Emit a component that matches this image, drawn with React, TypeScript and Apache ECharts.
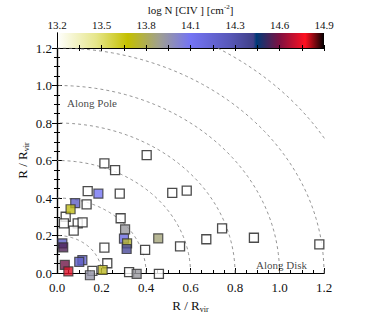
import React, { useEffect, useRef } from "react";
import * as echarts from "echarts";

const FONT = "'Liberation Serif', 'DejaVu Serif', serif";

// Dashed radii circles (R / Rvir)
const radii = [0.2, 0.4, 0.6, 0.8, 1.0, 1.2, 1.4];

// Main axis ticks
const axisTickLabels = ["0.0", "0.2", "0.4", "0.6", "0.8", "1.0", "1.2"];

// Colorbar tick labels (log N)
const cbTickLabels = ["13.2", "13.5", "13.8", "14.1", "14.3", "14.6", "14.9"];
const cbMin = 13.2;
const cbMax = 14.9;

// Colormap stops: [logN, color]
const cmapValues = [13.2, 13.45, 13.65, 13.85, 14.05, 14.3, 14.45, 14.47, 14.62, 14.78, 14.9];
const cmapColors = ["#ffffff", "#e6e68a", "#c4c000", "#a0a090", "#7474f4", "#5858b8", "#404088", "#003a78", "#801040", "#ff1020", "#000000"];

// Non-detections / open squares: [x, y]
const openX = [0.403, 0.213, 0.261, 0.138, 0.282, 0.518, 0.583, 0.133, 0.039, 0.031, 0.093, 0.115, 0.075, 0.286, 0.553, 0.396, 0.213, 0.226, 0.159, 0.324, 0.458, 0.742, 0.671, 0.885, 1.179];
const openY = [0.629, 0.585, 0.549, 0.437, 0.423, 0.427, 0.439, 0.366, 0.300, 0.265, 0.265, 0.270, 0.226, 0.292, 0.142, 0.123, 0.135, 0.052, 0.011, 0.005, -0.005, 0.238, 0.180, 0.188, 0.153];

// Detections coloured by log N(CIV)
const detX = [0.186, 0.082, 0.061, 0.306, 0.301, 0.315, 0.313, 0.455, 0.024, 0.028, 0.114, 0.100, 0.035, 0.051, 0.148, 0.205, 0.358];
const detY = [0.423, 0.373, 0.340, 0.233, 0.183, 0.158, 0.128, 0.185, 0.158, 0.137, 0.069, 0.059, 0.043, 0.009, -0.012, 0.016, -0.005];
const detLogN = [14.05, 14.25, 13.68, 13.88, 14.12, 13.72, 14.4, 13.82, 14.25, 14.56, 14.18, 14.25, 14.6, 14.74, 13.9, 13.7, 13.88];

// Annotations
const notes = [
  { x: 0.045, y: 0.905, text: "Along Pole", align: "left" },
  { x: 1.124, y: 0.043, text: "Along Disk", align: "right" },
];

function hexToRgb(h: string) {
  const n = parseInt(h.slice(1), 16);
  return [(n >> 16) & 255, (n >> 8) & 255, n & 255];
}
function cmap(v: number) {
  if (v <= cmapValues[0]) return cmapColors[0];
  for (let i = 1; i < cmapValues.length; i++) {
    if (v <= cmapValues[i]) {
      const t = (v - cmapValues[i - 1]) / (cmapValues[i] - cmapValues[i - 1]);
      const a = hexToRgb(cmapColors[i - 1]);
      const b = hexToRgb(cmapColors[i]);
      const c = a.map((x, k) => Math.round(x + (b[k] - x) * t));
      return `rgb(${c[0]},${c[1]},${c[2]})`;
    }
  }
  return cmapColors[cmapColors.length - 1];
}

export default function App() {
  const ref = useRef<HTMLDivElement>(null);
  useEffect(() => {
    if (!ref.current) return;
    const chart = echarts.init(ref.current, null, { renderer: "svg" });

    const circleSeries = radii.map((r) => {
      const pts: number[][] = [];
      for (let i = 0; i <= 90; i++) {
        const a = (i / 90) * Math.PI / 2;
        pts.push([r * Math.cos(a), r * Math.sin(a)]);
      }
      return {
        type: "line",
        xAxisIndex: 0,
        yAxisIndex: 0,
        data: pts,
        symbol: "none",
        clip: true,
        silent: true,
        z: 1,
        lineStyle: { color: "#7a7a7a", width: 0.8, type: [3, 3] },
      };
    });

    const gradStops = cmapValues.map((v, i) => ({ offset: (v - cbMin) / (cbMax - cbMin), color: cmapColors[i] }));

    const tickStyle = { show: true, inside: true, length: 5, lineStyle: { color: "#000", width: 1 } };
    const minorStyle = { show: true, splitNumber: 4, length: 3, lineStyle: { color: "#000", width: 1 } };
    const lineStyle = { show: true, lineStyle: { color: "#000", width: 1.2 } };
    const labelStyle = { fontFamily: FONT, fontSize: 13, color: "#111" };
    const nameRich = {
      a: { fontFamily: FONT, fontSize: 13, color: "#111" },
      s: { fontFamily: FONT, fontSize: 8, color: "#111", padding: [7, 0, 0, 0] },
    };

    chart.setOption({
      animation: false,
      backgroundColor: "#fff",
      grid: [
        { left: 57, right: 58, top: 48, bottom: 54 },
        { left: 57, right: 58, top: 33, height: 15 },
      ],
      xAxis: [
        {
          type: "value", gridIndex: 0, min: 0, max: 1.2, interval: 0.2, position: "bottom",
          axisLine: lineStyle, axisTick: tickStyle, minorTick: minorStyle, splitLine: { show: false },
          axisLabel: { ...labelStyle, margin: 8, formatter: (v: number) => axisTickLabels[Math.round(v / 0.2)] },
          name: "{a|R / R}{s|vir}", nameLocation: "middle", nameGap: 25, nameMoveOverlap: false,
          nameTextStyle: { rich: nameRich },
        },
        {
          type: "value", gridIndex: 0, min: 0, max: 1.2, interval: 0.2, position: "top",
          axisLine: lineStyle, axisTick: { show: false }, axisLabel: { show: false }, splitLine: { show: false },
        },
        {
          type: "value", gridIndex: 1, min: 0, max: 6, interval: 1, position: "top",
          axisLine: { show: true, lineStyle: { color: "#000", width: 1 } },
          axisTick: { show: true, inside: true, length: 3, lineStyle: { color: "#000" } },
          minorTick: { show: true, splitNumber: 2, length: 3, lineStyle: { color: "#000" } },
          splitLine: { show: false },
          axisLabel: { fontFamily: FONT, fontSize: 11, color: "#111", margin: 3, formatter: (v: number) => cbTickLabels[Math.round(v)] },
          name: "{a|log N [CIV ] [cm}{s|-2}{a|]}", nameLocation: "middle", nameGap: 17,
          nameTextStyle: {
            rich: {
              a: { fontFamily: FONT, fontSize: 11, color: "#111" },
              s: { fontFamily: FONT, fontSize: 7, color: "#111", padding: [0, 0, 6, 0] },
            },
          },
        },
        {
          type: "value", gridIndex: 1, min: 0, max: 6, interval: 1, position: "bottom",
          axisLine: { show: true, lineStyle: { color: "#000", width: 1 } },
          axisTick: { show: true, inside: true, length: 3, lineStyle: { color: "#000" } },
          minorTick: { show: true, splitNumber: 2, length: 3, lineStyle: { color: "#000" } },
          splitLine: { show: false }, axisLabel: { show: false },
        },
      ],
      yAxis: [
        {
          type: "value", gridIndex: 0, min: 0, max: 1.2, interval: 0.2, position: "left",
          axisLine: lineStyle, axisTick: tickStyle, minorTick: minorStyle, splitLine: { show: false },
          axisLabel: { ...labelStyle, margin: 5, formatter: (v: number) => axisTickLabels[Math.round(v / 0.2)] },
          name: "{a|R / R}{s|vir}", nameLocation: "middle", nameGap: 27, nameMoveOverlap: false,
          nameTextStyle: { rich: nameRich },
        },
        {
          type: "value", gridIndex: 0, min: 0, max: 1.2, interval: 0.2, position: "right",
          axisLine: lineStyle, axisTick: tickStyle, minorTick: minorStyle, splitLine: { show: false },
          axisLabel: { show: false },
        },
        {
          type: "value", gridIndex: 1, min: 0, max: 1, position: "left",
          axisLine: { show: true, lineStyle: { color: "#000", width: 1 } },
          axisTick: { show: false }, axisLabel: { show: false }, splitLine: { show: false },
        },
        {
          type: "value", gridIndex: 1, min: 0, max: 1, position: "right",
          axisLine: { show: true, lineStyle: { color: "#000", width: 1 } },
          axisTick: { show: false }, axisLabel: { show: false }, splitLine: { show: false },
        },
      ],
      series: [
        {
          type: "custom",
          xAxisIndex: 2,
          yAxisIndex: 2,
          z: -1,
          silent: true,
          data: [[0, 6]],
          renderItem: (params: any, api: any) => {
            const p0 = api.coord([0, 1]);
            const p1 = api.coord([6, 0]);
            return {
              type: "rect",
              shape: { x: p0[0], y: p0[1], width: p1[0] - p0[0], height: p1[1] - p0[1] },
              style: { fill: new echarts.graphic.LinearGradient(0, 0, 1, 0, gradStops) },
            };
          },
        },
        ...circleSeries,
        {
          type: "scatter",
          xAxisIndex: 0,
          yAxisIndex: 0,
          clip: false,
          z: 3,
          symbol: "rect",
          symbolSize: 9,
          itemStyle: { color: "#fff", borderColor: "#1e1e1e", borderWidth: 1.3 },
          data: openX.map((x, i) => [x, openY[i]]),
        },
        {
          type: "scatter",
          xAxisIndex: 0,
          yAxisIndex: 0,
          clip: false,
          z: 4,
          symbol: "rect",
          symbolSize: 9,
          data: detX.map((x, i) => ({
            value: [x, detY[i], detLogN[i]],
            itemStyle: { color: cmap(detLogN[i]), borderColor: "#333", borderWidth: 1.2 },
          })),
        },
        {
          type: "scatter",
          xAxisIndex: 0,
          yAxisIndex: 0,
          symbolSize: 0,
          silent: true,
          z: 5,
          data: notes.map((n) => ({
            value: [n.x, n.y],
            label: {
              show: true,
              position: n.align === "left" ? "right" : "left",
              distance: 0,
              formatter: n.text,
              fontFamily: FONT,
              fontSize: 11,
              color: "#111",
            },
          })),
        },
      ],
    });
    return () => chart.dispose();
  }, []);
  return <div ref={ref} style={{ width: 382, height: 327, position: "absolute", left: 0, top: 0 }} />;
}
